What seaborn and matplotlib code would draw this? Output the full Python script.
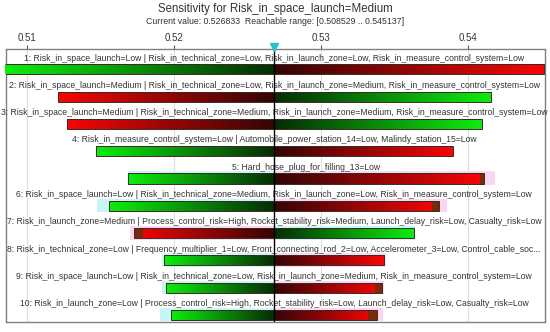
import numpy as np
import pandas as pd
import seaborn as sns
import matplotlib.pyplot as plt

# Chart data
title = "Sensitivity for Risk_in_space_launch=Medium"
current_value = 0.526833
reach_lo = 0.508529
reach_hi = 0.545137

labels = [
    "1: Risk_in_space_launch=Low | Risk_in_technical_zone=Low, Risk_in_launch_zone=Low, Risk_in_measure_control_system=Low",
    "2: Risk_in_space_launch=Medium | Risk_in_technical_zone=Low, Risk_in_launch_zone=Medium, Risk_in_measure_control_system=Low",
    "3: Risk_in_space_launch=Medium | Risk_in_technical_zone=Medium, Risk_in_launch_zone=Medium, Risk_in_measure_control_system=Low",
    "4: Risk_in_measure_control_system=Low | Automobile_power_station_14=Low, Malindy_station_15=Low",
    "5: Hard_hose_plug_for_filling_13=Low",
    "6: Risk_in_space_launch=Low | Risk_in_technical_zone=Medium, Risk_in_launch_zone=Low, Risk_in_measure_control_system=Low",
    "7: Risk_in_launch_zone=Medium | Process_control_risk=High, Rocket_stability_risk=Medium, Launch_delay_risk=Low, Casualty_risk=Low",
    "8: Risk_in_technical_zone=Low | Frequency_multiplier_1=Low, Front_connecting_rod_2=Low, Accelerometer_3=Low, Control_cable_soc...",
    "9: Risk_in_space_launch=Low | Risk_in_technical_zone=Low, Risk_in_launch_zone=Medium, Risk_in_measure_control_system=Low",
    "10: Risk_in_launch_zone=Low | Process_control_risk=High, Rocket_stability_risk=Low, Launch_delay_risk=Low, Casualty_risk=Low",
]
low_vals = [0.508529, 0.512109, 0.512721, 0.514694, 0.516871,
            0.515578, 0.517279, 0.519320, 0.519456, 0.519796]
high_vals = [0.545137, 0.541565, 0.540952, 0.538980, 0.541088,
             0.538027, 0.536327, 0.534286, 0.534150, 0.533810]
# which side is green (the low end of the bar or the high end)
low_green = [True, False, False, True, True, True, False, True, True, True]

# faint highlight ranges behind bars 5..10
band_rows = [4, 5, 6, 7, 8, 9]
band_lo = [0.516871, 0.514762, 0.517007, 0.519184, 0.519184, 0.519048]
band_hi = [0.541837, 0.538571, 0.536395, 0.534422, 0.534286, 0.534218]

# small brown tips at bar ends (row, start, end)
tip_rows = [4, 5, 6, 8, 9]
tip_start = [0.540816, 0.537551, 0.517279, 0.533673, 0.533197]
tip_end = [0.541088, 0.538027, 0.517891, 0.534150, 0.533810]

ticks = [0.51, 0.52, 0.53, 0.54]

df = pd.DataFrame({'label': labels, 'low': low_vals, 'high': high_vals,
                   'low_green': low_green})
df['row'] = np.arange(len(df))

sns.set_style('white')
plt.rcParams['font.family'] = ['Liberation Sans', 'DejaVu Sans']

fig = plt.figure(figsize=(5.5, 3.32), dpi=100)
ax = fig.add_axes([6 / 550, 10 / 332, 539 / 550, 273 / 332])

green_out = np.array([0.05, 0.93, 0.05])
green_in = np.array([0.02, 0.17, 0.02])
red_out = np.array([0.97, 0.02, 0.02])
red_in = np.array([0.20, 0.02, 0.02])


def gradient(c_left, c_right):
    t = np.linspace(0, 1, 256)[None, :, None]
    return c_left[None, None, :] * (1 - t) + c_right[None, None, :] * t


bar_off = 0.56
bar_h = 0.37

# bands
for r, lo, hi in zip(band_rows, band_lo, band_hi):
    lg = df.loc[r, 'low_green']
    ax.barh(r + 0.48, current_value - lo, left=lo, height=0.5, align='edge',
            color='#c8f6f6' if lg else '#fbd6f2', lw=0, zorder=1)
    ax.barh(r + 0.48, hi - current_value, left=current_value, height=0.5, align='edge',
            color='#fbd6f2' if lg else '#c8f6f6', lw=0, zorder=1)

for _, d in df.iterrows():
    y0 = d['row'] + bar_off
    if d['low_green']:
        left_cols = (green_out, green_in)
        right_cols = (red_in, red_out)
    else:
        left_cols = (red_out, red_in)
        right_cols = (green_in, green_out)
    for x0, x1, cols in [(d['low'], current_value, left_cols),
                         (current_value, d['high'], right_cols)]:
        patch = ax.barh(y0, x1 - x0, left=x0, height=bar_h, align='edge',
                        facecolor='none', edgecolor='#3a2a20', lw=0.7, zorder=4)[0]
        im = ax.imshow(gradient(*cols), extent=[x0, x1, y0 + bar_h, y0],
                       aspect='auto', interpolation='bilinear', zorder=3)
        im.set_clip_path(patch)

for r, s, e in zip(tip_rows, tip_start, tip_end):
    ax.barh(r + bar_off, e - s, left=s, height=bar_h, align='edge',
            color='#7a2a08', lw=0, zorder=3.5)

# row labels centred on each bar
for _, d in df.iterrows():
    ax.text((d['low'] + d['high']) / 2, d['row'] + 0.33, d['label'],
            ha='center', va='center', fontsize=6.2, color='#333333', zorder=5)

# current value line and marker
ax.axvline(current_value, color='black', lw=1, zorder=6)
ax.plot([current_value], [-0.08], marker='v', color='#22c4c4', ms=6,
        clip_on=False, zorder=7)

ax.set_xlim(0.51 + (6 - 27) / 14700, 0.51 + (545 - 27) / 14700)
ax.set_ylim(10, 0)
ax.set_yticks([])
ax.xaxis.tick_top()
ax.set_xticks(ticks)
ax.set_xticklabels([f"{t:.2f}" for t in ticks])
ax.tick_params(axis='x', length=3, width=0.8, color='#555555', labelsize=7,
               labelcolor='#333333', pad=1, top=True)
ax.grid(axis='x', color='#dddddd', lw=0.8, zorder=0)
ax.set_axisbelow(True)
for s in ax.spines.values():
    s.set_color('#808080')
    s.set_linewidth(1)

fig.text(0.5, 1 - 9 / 332, title, ha='center', va='center', fontsize=8.3, color='#333333')
fig.text(0.5, 1 - 22 / 332,
         f"Current value: {current_value:.6f}  Reachable range: [{reach_lo:.6f} .. {reach_hi:.6f}]",
         ha='center', va='center', fontsize=6.3, color='#333333')

fig.savefig('out.png', dpi=100)
